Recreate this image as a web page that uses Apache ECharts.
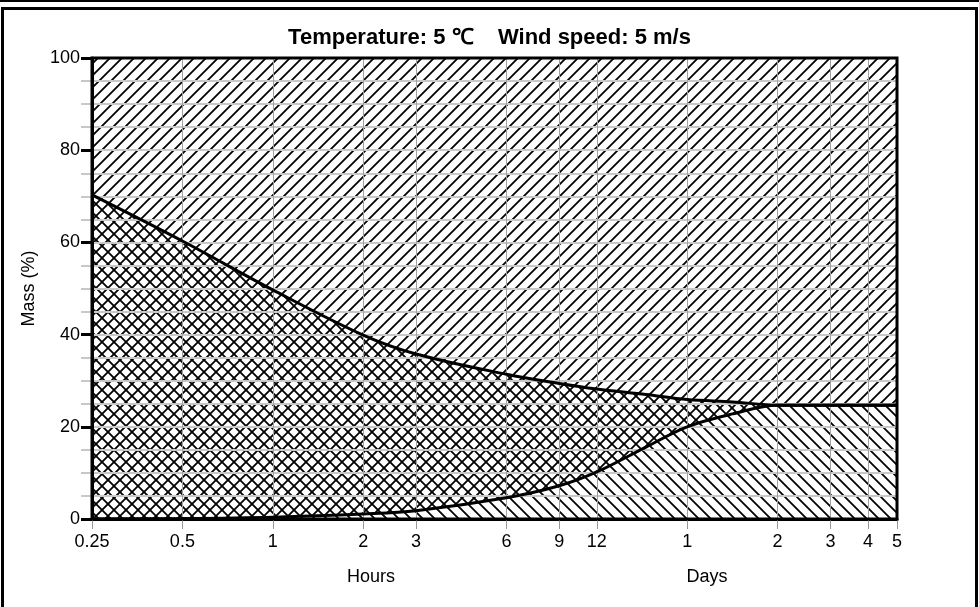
<!DOCTYPE html>
<html>
<head>
<meta charset="utf-8">
<script src="https://cdn.jsdelivr.net/npm/echarts@6/dist/echarts.min.js"></script>
<style>
  html, body { margin: 0; padding: 0; background: #fff; }
  #chart { width: 979px; height: 607px; }
</style>
</head>
<body>
<div id="chart"></div>
<script>
// Elapsed time in hours
var times = [0.25, 0.5, 1, 2, 3, 6, 9, 12, 17.5, 24, 34, 48, 72, 96, 120];
// Upper boundary curve (%)
var upperCurve = [70.3, 60.3, 49.7, 39.9, 35.8, 31.4, 29.4, 28.2, 27.0, 25.9, 25.4, 24.7, 24.7, 24.7, 24.7];
// Lower boundary curve (%)
var lowerCurve = [0, 0.1, 0.4, 1.1, 1.8, 4.6, 7.2, 10.2, 15.6, 20.0, 22.8, 24.7, 24.7, 24.7, 24.7];

// Tick positions (hours) and the text shown under each
var tickHours = [0.25, 0.5, 1, 2, 3, 6, 9, 12, 24, 48, 72, 96, 120];
var tickText = ['0.25', '0.5', '1', '2', '3', '6', '9', '12', '1', '2', '3', '4', '5'];

var FONT = '"Liberation Sans", Arial, sans-serif';

function pairs(xs, ys) {
  return xs.map(function (x, i) { return [x, ys[i]]; });
}

// Diagonal hatch tile; dir > 0 gives "/", otherwise "\"
function hatch(dir) {
  var s = 12;
  var c = document.createElement('canvas');
  c.width = s; c.height = s;
  var g = c.getContext('2d');
  g.strokeStyle = '#000';
  g.lineWidth = 1.8;
  g.beginPath();
  if (dir > 0) {
    g.moveTo(0, s); g.lineTo(s, 0);
    g.moveTo(-s / 2, s / 2); g.lineTo(s / 2, -s / 2);
    g.moveTo(s / 2, s * 1.5); g.lineTo(s * 1.5, s / 2);
  } else {
    g.moveTo(0, 0); g.lineTo(s, s);
    g.moveTo(-s / 2, s / 2); g.lineTo(s / 2, s * 1.5);
    g.moveTo(s / 2, -s / 2); g.lineTo(s * 1.5, s / 2);
  }
  g.stroke();
  return c;
}

function tickLabel(v) {
  var best = 0, bd = Infinity;
  for (var i = 0; i < tickHours.length; i++) {
    var d = Math.abs(Math.log(v) - Math.log(tickHours[i]));
    if (d < bd) { bd = d; best = i; }
  }
  return tickText[best];
}

var SMOOTH = 0.35;

var chart = echarts.init(document.getElementById('chart'), null, { renderer: 'canvas' });

var option = {
  animation: false,
  backgroundColor: '#fff',
  title: {
    text: 'Temperature: 5 \u2103    Wind speed: 5 m/s',
    left: 'center',
    top: 22,
    textStyle: { fontFamily: FONT, fontSize: 22, fontWeight: 'bold', color: '#000' }
  },
  grid: {
    left: 92, right: 82, top: 58, bottom: 88,
    show: true, borderColor: '#000', borderWidth: 3,
    backgroundColor: 'transparent', z: 4
  },
  xAxis: {
    type: 'log',
    logBase: 2,
    min: 0.25,
    max: 120,
    z: 2,
    axisLine: { show: true, onZero: false, lineStyle: { color: '#000', width: 3 } },
    axisTick: { show: true, customValues: tickHours, length: 10, lineStyle: { color: '#999', width: 1 } },
    axisLabel: {
      customValues: tickHours,
      formatter: tickLabel,
      fontFamily: FONT, fontSize: 18, color: '#000', margin: 14
    },
    splitLine: { show: true, lineStyle: { color: '#a0a0a0', width: 1 } },
    minorTick: { show: false },
    minorSplitLine: { show: false }
  },
  yAxis: {
    type: 'value',
    min: 0,
    max: 100,
    interval: 20,
    z: 2,
    name: 'Mass (%)',
    nameLocation: 'middle',
    nameGap: 54,
    nameTextStyle: { fontFamily: FONT, fontSize: 18, color: '#000' },
    axisLine: { show: true, lineStyle: { color: '#000', width: 3 } },
    axisTick: { show: true, length: 11, lineStyle: { color: '#000', width: 3 } },
    minorTick: { show: true, splitNumber: 4, length: 11, lineStyle: { color: '#c8c8c8', width: 2 } },
    axisLabel: { fontFamily: FONT, fontSize: 18, color: '#000', margin: 12 },
    splitLine: { show: true, lineStyle: { color: '#c8c8c8', width: 2 } },
    minorSplitLine: { show: true, lineStyle: { color: '#c8c8c8', width: 2 } }
  },
  series: [
    {
      // band from the axis up to the upper curve
      type: 'line',
      z: 1,
      data: pairs(times, upperCurve),
      smooth: SMOOTH,
      symbol: 'none',
      lineStyle: { width: 0 },
      areaStyle: { color: { image: hatch(-1), repeat: 'repeat' }, opacity: 1 }
    },
    {
      // band from the lower curve up to 100 %
      type: 'line',
      z: 1,
      data: pairs(times, lowerCurve),
      smooth: SMOOTH,
      symbol: 'none',
      lineStyle: { width: 0 },
      areaStyle: { origin: 'end', color: { image: hatch(1), repeat: 'repeat' }, opacity: 1 }
    },
    {
      type: 'line',
      z: 3,
      data: pairs(times, upperCurve),
      smooth: SMOOTH,
      symbol: 'none',
      lineStyle: { color: '#000', width: 3 }
    },
    {
      type: 'line',
      z: 3,
      data: pairs(times, lowerCurve),
      smooth: SMOOTH,
      symbol: 'none',
      lineStyle: { color: '#000', width: 3 }
    }
  ],
  graphic: [
    {
      type: 'rect',
      shape: { x: 0, y: 0, width: 979, height: 2 },
      style: { fill: '#000' }, silent: true
    },
    {
      type: 'rect',
      shape: { x: 2.5, y: 8.5, width: 974, height: 610 },
      style: { fill: null, stroke: '#000', lineWidth: 3 }, silent: true
    },
    {
      type: 'text', x: 371, y: 577,
      style: { text: 'Hours', fontFamily: FONT, fontSize: 18, fill: '#000', align: 'center', verticalAlign: 'middle' }
    },
    {
      type: 'text', x: 707, y: 577,
      style: { text: 'Days', fontFamily: FONT, fontSize: 18, fill: '#000', align: 'center', verticalAlign: 'middle' }
    }
  ]
};

chart.setOption(option);
</script>
</body>
</html>
